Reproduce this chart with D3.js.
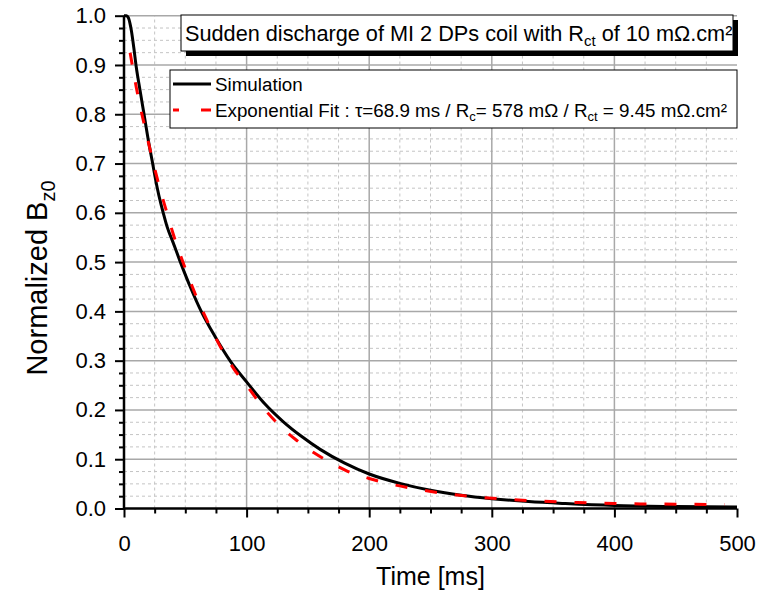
<!DOCTYPE html>
<html><head><meta charset="utf-8">
<script src="https://cdn.jsdelivr.net/npm/d3@7"></script>
<style>body{margin:0;background:#fff}svg{display:block}</style></head>
<body><svg id="c" width="759" height="595"></svg>
<script>
// Simulation (black solid)
const simT=[0,2,3,4,5,6,8,10,13,16,20,23,25,27,30,32,35,40,46,54,63,74,87,100,115,130,145,160,180,200,225,250,275,300,330,360,400,450,500];
const simV=[1,1,0.998,0.993,0.983,0.97,0.935,0.896,0.85,0.805,0.745,0.705,0.678,0.652,0.619,0.6,0.573,0.54,0.5,0.45,0.4,0.35,0.298,0.257,0.212,0.176,0.146,0.12,0.092,0.07,0.051,0.037,0.027,0.02,0.014,0.01,0.006,0.004,0.003];
// Exponential fit (red dashed)
const fitT=[5,8,10,13,16,20,25,30,35,40,50,60,70,80,90,100,110,125,140,155,170,182,200,210,235,260,285,310,340,370,400,440,490];
const fitV=[0.925,0.882,0.855,0.818,0.785,0.742,0.69,0.643,0.6,0.558,0.487,0.424,0.37,0.322,0.282,0.25,0.216,0.173,0.14,0.113,0.091,0.076,0.061,0.054,0.041,0.031,0.024,0.019,0.015,0.012,0.01,0.009,0.008];
const xTicks=[0,100,200,300,400,500];
const yTicks=[0,0.1,0.2,0.3,0.4,0.5,0.6,0.7,0.8,0.9,1.0];
const xMinor=d3.range(0,501,25);
const yMinor=d3.range(0,41).map(i=>i*0.025);

const svg=d3.select("#c");
const FONT="Liberation Sans, Arial, sans-serif";
const x=d3.scaleLinear().domain([0,500]).range([124,737]);
const y=d3.scaleLinear().domain([0,1]).range([508.5,15.7]);

const grid=svg.append("g");
grid.selectAll(".hm").data(yMinor.filter((d,i)=>i%4!==0)).join("line")
  .attr("x1",x(0)).attr("x2",x(500)).attr("y1",d=>y(d)).attr("y2",d=>y(d))
  .attr("stroke","#c4c4c4").attr("stroke-width",1).attr("stroke-dasharray","3,3");
grid.selectAll(".vm").data(xMinor.filter((d,i)=>i%4!==0)).join("line")
  .attr("y1",y(0)).attr("y2",y(1)).attr("x1",d=>x(d)).attr("x2",d=>x(d))
  .attr("stroke","#c4c4c4").attr("stroke-width",1).attr("stroke-dasharray","3,3");
grid.selectAll(".hM").data(yTicks.slice(1)).join("line")
  .attr("x1",x(0)).attr("x2",x(500)).attr("y1",d=>y(d)).attr("y2",d=>y(d))
  .attr("stroke","#a8a8a8").attr("stroke-width",1.5);
grid.selectAll(".vM").data(xTicks.slice(1,5)).join("line")
  .attr("y1",y(0)).attr("y2",y(1)).attr("x1",d=>x(d)).attr("x2",d=>x(d))
  .attr("stroke","#a8a8a8").attr("stroke-width",1.5);

const line=d3.line().x(d=>x(d[0])).y(d=>y(d[1])).curve(d3.curveMonotoneX);
svg.append("path").datum(simT.map((t,i)=>[t,simV[i]])).attr("d",line)
  .attr("fill","none").attr("stroke","#000").attr("stroke-width",3);
svg.append("path").datum(fitT.map((t,i)=>[t,fitV[i]])).attr("d",line)
  .attr("fill","none").attr("stroke","#ff0000").attr("stroke-width",3).attr("stroke-dasharray","12,18");

const xa=svg.append("g").attr("transform",`translate(0,${y(0)})`)
  .call(d3.axisBottom(x).tickValues(xTicks).tickSize(9).tickPadding(18).tickFormat(d3.format("d")));
const xm=svg.append("g").attr("transform",`translate(0,${y(0)})`)
  .call(d3.axisBottom(x).tickValues(xMinor.filter((d,i)=>i%4!==0)).tickSize(5).tickFormat(""));
const ya=svg.append("g").attr("transform",`translate(${x(0)},0)`)
  .call(d3.axisLeft(y).tickValues(yTicks).tickSize(9).tickPadding(9).tickFormat(d3.format(".1f")));
const ym=svg.append("g").attr("transform",`translate(${x(0)},0)`)
  .call(d3.axisLeft(y).tickValues(yMinor.filter((d,i)=>i%4!==0)).tickSize(5).tickFormat(""));
[xa,xm,ya,ym].forEach(g=>{
  g.selectAll(".tick line").attr("stroke","#000").attr("stroke-width",2);
  g.selectAll(".tick text").attr("font-family",FONT).attr("font-size",22).attr("fill","#000");
  g.select(".domain").attr("stroke","#000").attr("stroke-width",2.5);
});
xm.select(".domain").remove(); ym.select(".domain").remove();
ya.select(".domain").attr("d",`M0,${y(0)+1}V${y(1)}`);
xa.select(".domain").attr("d",`M${x(0)-1},0H${x(500)}`);

svg.append("text").attr("x",(x(0)+x(500))/2).attr("y",585).attr("text-anchor","middle")
  .attr("font-family",FONT).attr("font-size",25).text("Time [ms]");
const yl=svg.append("text").attr("transform",`translate(47,278) rotate(-90)`).attr("text-anchor","middle")
  .attr("font-family",FONT).attr("font-size",29);
yl.append("tspan").text("Normalized B");
yl.append("tspan").attr("font-size",20).attr("dy",8).text("z0");

const tb={x:181,y:15,w:552,h:36};
svg.append("rect").attr("x",tb.x+5).attr("y",tb.y+5).attr("width",tb.w).attr("height",tb.h).attr("fill","#000");
svg.append("rect").attr("x",tb.x).attr("y",tb.y).attr("width",tb.w).attr("height",tb.h).attr("fill","#fff").attr("stroke","#000").attr("stroke-width",1);
const tt=svg.append("text").attr("x",tb.x+4).attr("y",tb.y+26).attr("font-family",FONT).attr("font-size",21.7);
tt.append("tspan").text("Sudden discharge of MI 2 DPs coil with R");
tt.append("tspan").attr("font-size",15).attr("dy",5).text("ct");
tt.append("tspan").attr("dy",-5).text(" of 10 m\u03A9.cm\u00B2");

const lg={x:170,y:70,w:567,h:58};
svg.append("rect").attr("x",lg.x).attr("y",lg.y).attr("width",lg.w).attr("height",lg.h).attr("fill","#fff").attr("stroke","#000").attr("stroke-width",1);
svg.append("line").attr("x1",173).attr("x2",211).attr("y1",84).attr("y2",84).attr("stroke","#000").attr("stroke-width",3);
svg.append("line").attr("x1",173).attr("x2",211).attr("y1",110).attr("y2",110).attr("stroke","#ff0000").attr("stroke-width",3).attr("stroke-dasharray","6,22,10");
svg.append("text").attr("x",215).attr("y",91).attr("font-family",FONT).attr("font-size",18.8).text("Simulation");
const l2=svg.append("text").attr("x",215).attr("y",117).attr("font-family",FONT).attr("font-size",18.8);
l2.append("tspan").text("Exponential Fit : \u03C4=68.9 ms / R");
l2.append("tspan").attr("font-size",13).attr("dy",4).text("c");
l2.append("tspan").attr("dy",-4).text("= 578 m\u03A9 / R");
l2.append("tspan").attr("font-size",13).attr("dy",4).text("ct");
l2.append("tspan").attr("dy",-4).text(" = 9.45 m\u03A9.cm\u00B2");
</script></body></html>
